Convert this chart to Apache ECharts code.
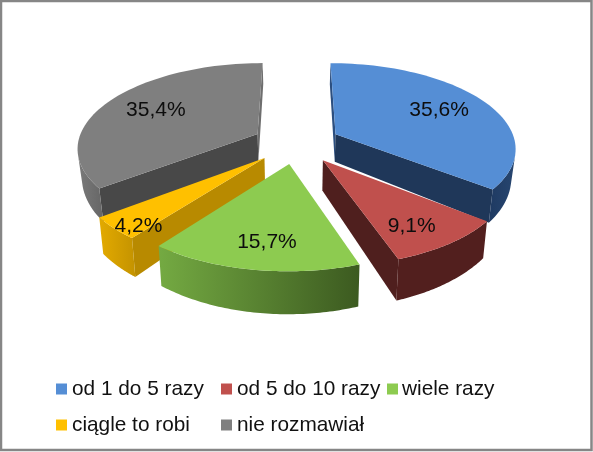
<!DOCTYPE html>
<html>
<head>
<meta charset="utf-8">
<style>html,body{margin:0;padding:0;background:#fff}#c{width:593px;height:452px}</style>
<script src="https://cdn.jsdelivr.net/npm/echarts@6/dist/echarts.min.js"></script>
</head>
<body>
<div id="c"></div>
<script>
const categories = ['od 1 do 5 razy', 'od 5 do 10 razy', 'wiele razy', 'ciągle to robi', 'nie rozmawiał'];
const values = [35.6, 9.1, 15.7, 4.2, 35.4];
const labels = ['35,6%', '9,1%', '15,7%', '4,2%', '35,4%'];
const topColors = ['#558ed5', '#c0504d', '#8dcb50', '#ffc000', '#7f7f7f'];
const cutStartColors = ['#2c4f80', '#4f1f1e', '#4a6b2a', '#b88a00', '#484848'];
const cutEndColors = ['#1f3759', '#4f1f1e', '#4a6b2a', '#b88a00', '#6e6e6e'];
const rimLeft = ['#1f3a62', '#521f1e', '#74aa42', '#e3aa00', '#7a7a7a'];
const rimRight = ['#274670', '#521f1e', '#3c5a20', '#c49300', '#666666'];
const labelRadius = [0.69, 0.78, 0.77, 0.91, 0.68];
const labelAngle = [0.5, 0.6, 0.47, 0.2, 0.5];
const drawOrder = [4, 0, 3, 1, 2];

const CX = 296.5, CY = 143, S = 180, TILT = 0.467, PERSP = 0.15, EXPLODE = 0.245, DEPTH = 0.158, SHRINK = 0.98;

function project(X, Y, bottom) {
  const w = 1 + PERSP * Y;
  let x = S * X / w;
  let y = -S * TILT * Y / w;
  if (bottom) { x *= SHRINK; y += DEPTH * S / (w * w); }
  return [CX + x, CY + y];
}
function area(p) {
  let s = 0;
  p.forEach((a, i) => { const b = p[(i + 1) % p.length]; s += a[0] * b[1] - b[0] * a[1]; });
  return s;
}
const starts = values.map((v, i) => values.slice(0, i).reduce((a, b) => a + b, 0));

function renderWedge(params, api) {
  const i = api.value(2);
  const v = api.value(0), st = api.value(1);
  const a0 = st * 3.6 * Math.PI / 180, a1 = (st + v) * 3.6 * Math.PI / 180, mid = (a0 + a1) / 2;
  const ox = Math.sin(mid) * EXPLODE, oy = Math.cos(mid) * EXPLODE;
  const n = 64, rim3 = [];
  for (let k = 0; k <= n; k++) {
    const a = a0 + (a1 - a0) * k / n;
    rim3.push([ox + Math.sin(a), oy + Math.cos(a)]);
  }
  const apex = [ox, oy];
  const T = p => project(p[0], p[1], false), B = p => project(p[0], p[1], true);
  const children = [];
  function front(p, q) { return area([T(p), T(q), B(q), B(p)]) < 0; }
  function wall(p, q, color) {
    if (front(p, q)) children.push({ type: 'polygon', shape: { points: [T(p), T(q), B(q), B(p)] }, style: { fill: color } });
  }
  wall(apex, rim3[0], cutStartColors[i]);
  wall(rim3[n], apex, cutEndColors[i]);
  // the outer wall: one gradient polygon for the run of segments that faces the viewer
  let run = [];
  const flush = () => {
    if (run.length > 1) {
      children.push({
        type: 'polygon',
        shape: { points: run.map(T).concat(run.slice().reverse().map(B)) },
        style: { fill: new echarts.graphic.LinearGradient(0, 0, 1, 0, [
          { offset: 0, color: rimLeft[i] }, { offset: 1, color: rimRight[i] }]) }
      });
    }
    run = [];
  };
  for (let k = 0; k < n; k++) {
    if (front(rim3[k], rim3[k + 1])) {
      if (!run.length) run.push(rim3[k]);
      run.push(rim3[k + 1]);
    } else flush();
  }
  flush();
  children.push({ type: 'polygon', shape: { points: [T(apex)].concat(rim3.map(T)) }, style: { fill: topColors[i] } });
  const r = labelRadius[i];
  const la = a0 + (a1 - a0) * labelAngle[i];
  const lp = T([ox + Math.sin(la) * r, oy + Math.cos(la) * r]);
  children.push({
    type: 'text', z2: 10,
    style: { x: lp[0], y: lp[1], text: labels[i], fill: '#0d0d0d', align: 'center', verticalAlign: 'middle',
      font: '21px "Liberation Sans", Arial, sans-serif' }
  });
  return { type: 'group', children };
}

function legendAt(left, names, gap) {
  return { orient: 'vertical', left, top: 378, padding: 0, itemWidth: 11, itemHeight: 11, itemGap: 14, selectedMode: false,
    icon: 'rect', data: names,
    textStyle: { fontFamily: '"Liberation Sans", Arial, sans-serif', fontSize: 20.8, lineHeight: 22, color: '#111', padding: [0, 0, 0, gap - 5] } };
}

const chart = echarts.init(document.getElementById('c'), null, { renderer: 'canvas' });
chart.setOption({
  animation: false,
  backgroundColor: '#fff',
  graphic: [{ type: 'rect', silent: true, z: -1, shape: { x: 1, y: 1, width: 590.5, height: 449 },
    style: { fill: '#fff', stroke: '#868686', lineWidth: 2.5 } }],
  legend: [
    legendAt(56, [categories[0], categories[3]], 5),
    legendAt(221, [categories[1], categories[4]], 5),
    legendAt(387, [categories[2]], 4)
  ],
  series: drawOrder.map((i, z) => ({
    type: 'custom',
    name: categories[i],
    coordinateSystem: 'none',
    silent: true,
    z: 2 + z,
    itemStyle: { color: topColors[i] },
    renderItem: renderWedge,
    data: [[values[i], starts[i], i]]
  }))
});
</script>
</body>
</html>
